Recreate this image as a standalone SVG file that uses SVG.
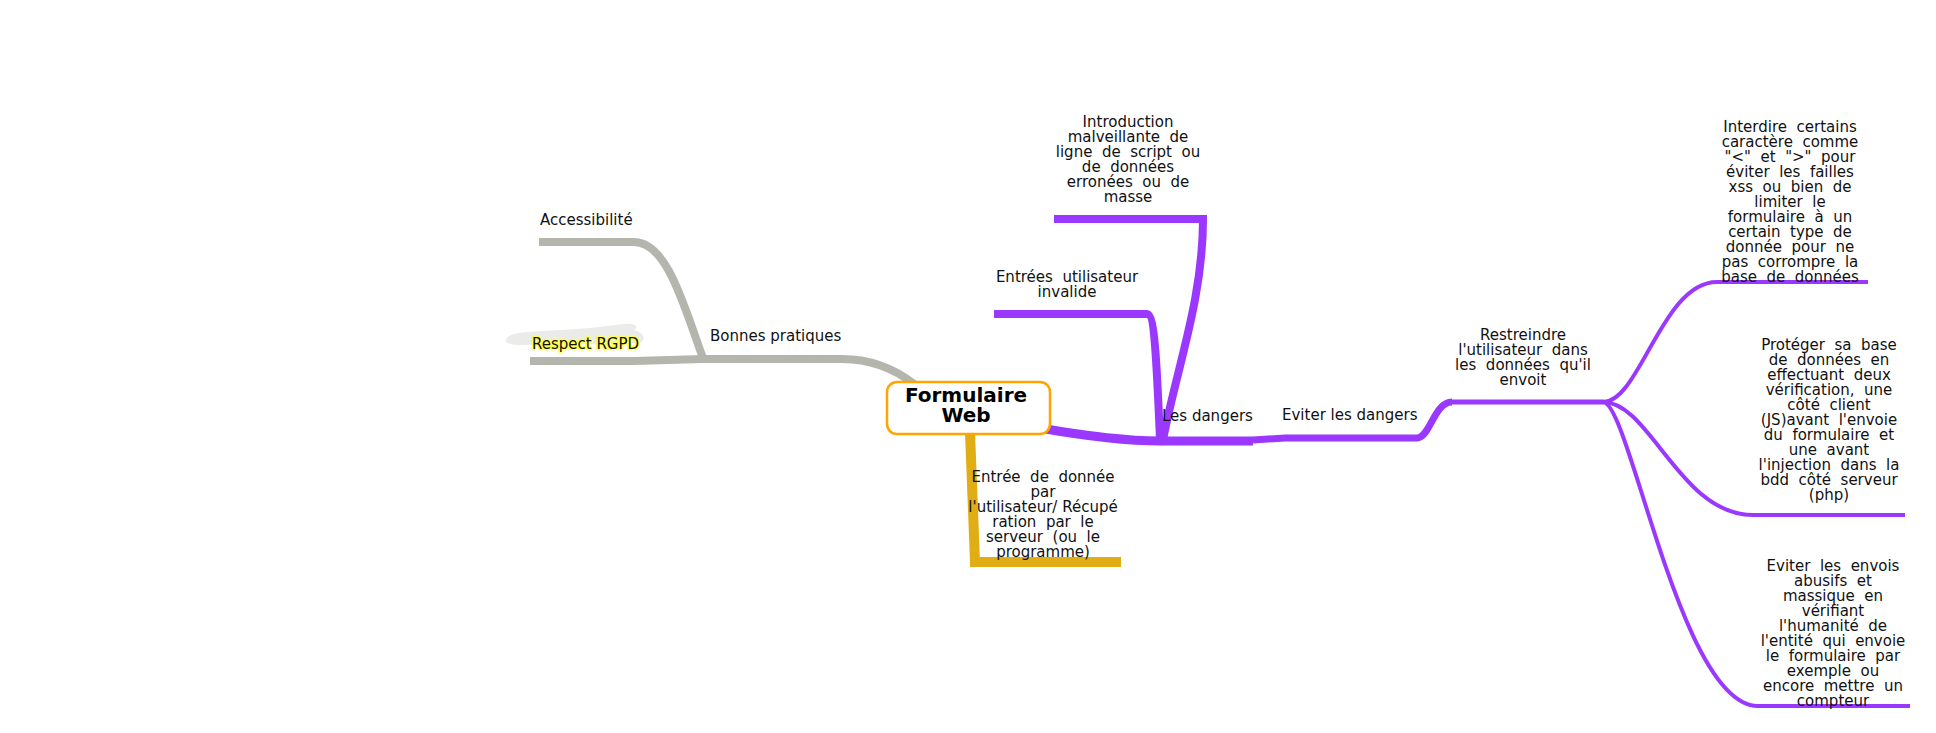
<svg xmlns="http://www.w3.org/2000/svg" width="1936" height="733" viewBox="0 0 1936 733">
<style>
text{font-family:"DejaVu Sans","Liberation Sans",sans-serif;font-size:15px;fill:#111;white-space:pre}
.c{text-anchor:middle}
.g{fill:none;stroke:#b4b6ae;stroke-linecap:butt}
.p{fill:none;stroke:#9a38ff}
.y{fill:none;stroke:#e0ae14}
.title{font-size:20px;font-weight:bold;fill:#000}
</style>
<rect width="1936" height="733" fill="#fff"/>
<g id="connectors">
<path class="g" stroke-width="8" d="M539,242 H634 C668,242 685,310 703,358"/>
<path class="g" stroke-width="8" d="M530,361 H634 L703,359"/>
<path class="g" stroke-width="8" d="M703,359 H842 C872,359 896,370 914,384"/>
<path class="y" stroke-width="10" d="M970,432 L975,562"/>
<path class="y" stroke-width="10" d="M970,562 H1121"/>
<path class="p" stroke-width="9" d="M1040,428 C1080,435 1120,441 1160,441 H1253"/>
<path class="p" stroke-width="8" d="M1054,219 H1203 C1203,300 1176,370 1163,440"/>
<path class="p" stroke-width="8" d="M994,314 H1147 C1155,314 1157,370 1160,440"/>
<path class="p" stroke-width="7" d="M1253,440 L1285,438 H1417 C1430,438 1434,402 1452,402"/>
<path class="p" stroke-width="5" d="M1450,402 H1604"/>
<path class="p" stroke-width="4" d="M1603,402 C1640,402 1662,282 1717,282 H1868"/>
<path class="p" stroke-width="4" d="M1603,402 C1650,402 1680,515 1753,515 H1905"/>
<path class="p" stroke-width="4" d="M1603,402 C1630,402 1680,706 1758,706 H1910"/>
</g>
<g id="center">
<rect x="887" y="382" width="163" height="52" rx="10" fill="#fff" stroke="#ffa500" stroke-width="2.5"/>
<text class="c title" x="966" y="402">Formulaire</text>
<text class="c title" x="966" y="422">Web</text>
</g>
<g id="bonnes-pratiques"><text x="710" y="341">Bonnes pratiques</text></g>
<g id="accessibilite"><text x="540" y="225">Accessibilité</text></g>
<g id="rgpd">
<path d="M507,338 C512,331 535,332 560,330 C585,329 605,326 625,324 C635,323 640,327 634,330 C645,333 646,340 640,343 C600,345 560,344 520,345 C508,345 503,342 507,338 Z" fill="#ebebea"/>
<text x="532" y="349" stroke="#ffff55" stroke-width="3" paint-order="stroke" stroke-linejoin="round">Respect RGPD</text>
</g>
<g id="entree">
<text class="c" x="1043" y="482">Entrée  de  donnée</text>
<text class="c" x="1043" y="497">par</text>
<text class="c" x="1043" y="512">l'utilisateur/ Récupé</text>
<text class="c" x="1043" y="527">ration  par  le</text>
<text class="c" x="1043" y="542">serveur  (ou  le</text>
<text class="c" x="1043" y="557">programme)</text>
</g>
<g id="dangers"><text x="1162" y="421">Les dangers</text></g>
<g id="introduction">
<text class="c" x="1128" y="127">Introduction</text>
<text class="c" x="1128" y="142">malveillante  de</text>
<text class="c" x="1128" y="157">ligne  de  script  ou</text>
<text class="c" x="1128" y="172">de  données</text>
<text class="c" x="1128" y="187">erronées  ou  de</text>
<text class="c" x="1128" y="202">masse</text>
</g>
<g id="entrees-invalide">
<text class="c" x="1067" y="282">Entrées  utilisateur</text>
<text class="c" x="1067" y="297">invalide</text>
</g>
<g id="eviter"><text x="1282" y="420">Eviter les dangers</text></g>
<g id="restreindre">
<text class="c" x="1523" y="340">Restreindre</text>
<text class="c" x="1523" y="355">l'utilisateur  dans</text>
<text class="c" x="1523" y="370">les  données  qu'il</text>
<text class="c" x="1523" y="385">envoit</text>
</g>
<g id="interdire">
<text class="c" x="1790" y="132">Interdire  certains</text>
<text class="c" x="1790" y="147">caractère  comme</text>
<text class="c" x="1790" y="162">"&lt;"  et  "&gt;"  pour</text>
<text class="c" x="1790" y="177">éviter  les  failles</text>
<text class="c" x="1790" y="192">xss  ou  bien  de</text>
<text class="c" x="1790" y="207">limiter  le</text>
<text class="c" x="1790" y="222">formulaire  à  un</text>
<text class="c" x="1790" y="237">certain  type  de</text>
<text class="c" x="1790" y="252">donnée  pour  ne</text>
<text class="c" x="1790" y="267">pas  corrompre  la</text>
<text class="c" x="1790" y="282">base  de  données</text>
</g>
<g id="proteger">
<text class="c" x="1829" y="350">Protéger  sa  base</text>
<text class="c" x="1829" y="365">de  données  en</text>
<text class="c" x="1829" y="380">effectuant  deux</text>
<text class="c" x="1829" y="395">vérification,  une</text>
<text class="c" x="1829" y="410">côté  client</text>
<text class="c" x="1829" y="425">(JS)avant  l'envoie</text>
<text class="c" x="1829" y="440">du  formulaire  et</text>
<text class="c" x="1829" y="455">une  avant</text>
<text class="c" x="1829" y="470">l'injection  dans  la</text>
<text class="c" x="1829" y="485">bdd  côté  serveur</text>
<text class="c" x="1829" y="500">(php)</text>
</g>
<g id="envois">
<text class="c" x="1833" y="571">Eviter  les  envois</text>
<text class="c" x="1833" y="586">abusifs  et</text>
<text class="c" x="1833" y="601">massique  en</text>
<text class="c" x="1833" y="616">vérifiant</text>
<text class="c" x="1833" y="631">l'humanité  de</text>
<text class="c" x="1833" y="646">l'entité  qui  envoie</text>
<text class="c" x="1833" y="661">le  formulaire  par</text>
<text class="c" x="1833" y="676">exemple  ou</text>
<text class="c" x="1833" y="691">encore  mettre  un</text>
<text class="c" x="1833" y="706">compteur</text>
</g>
</svg>
